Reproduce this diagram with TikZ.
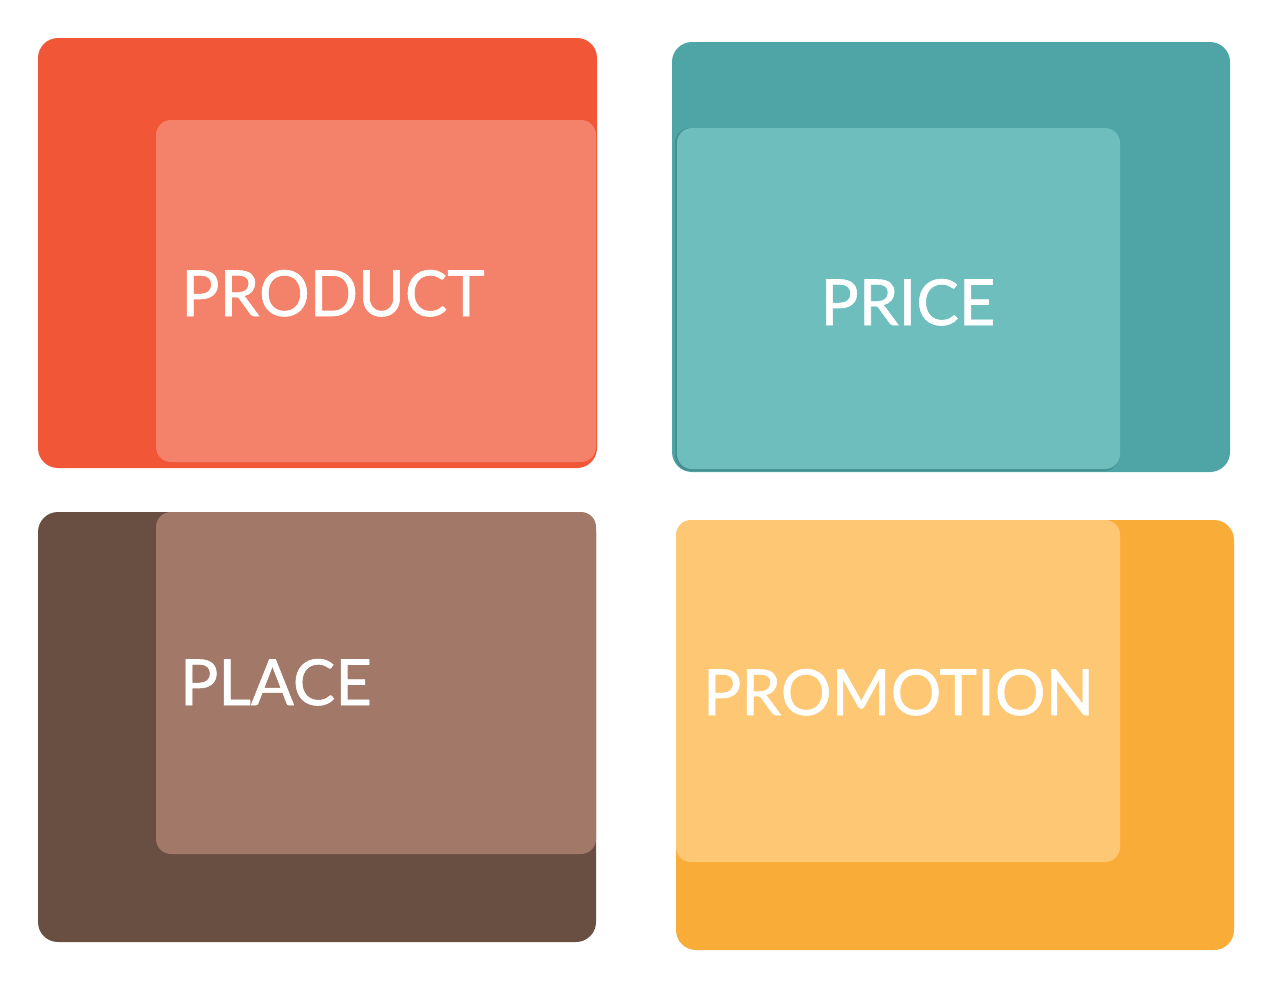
\documentclass[tikz,border=0pt]{standalone}
\usepackage{fontspec}
\newfontfamily\lato[FakeBold=0.9]{Lato}
\definecolor{prodOut}{HTML}{F15737}
\definecolor{prodIn}{HTML}{F4826A}
\definecolor{priceOut}{HTML}{4FA4A6}
\definecolor{priceIn}{HTML}{6FBEBE}
\definecolor{placeOut}{HTML}{694E42}
\definecolor{placeIn}{HTML}{A27968}
\definecolor{promoOut}{HTML}{F9AD38}
\definecolor{promoIn}{HTML}{FDC773}
\tikzset{
  outerbox/.style={rounded corners=20pt},
  innerbox/.style={rounded corners=15pt},
  label4p/.style={text=white, inner sep=0pt, anchor=base, font=\lato\fontsize{63.5}{70}\selectfont}
}
\begin{document}
\begin{tikzpicture}[x=1pt,y=-1pt]
\useasboundingbox[fill=white] (0,0) rectangle (1273,988);
% PRODUCT
\fill[prodOut,outerbox] (38,38) rectangle (597,468);
\fill[prodIn,innerbox] (156,120) rectangle (596,462);
\node[label4p] (product) at (333,316) {PRODUCT};
% PRICE
\fill[priceOut,outerbox] (672,42) rectangle (1230,472);
\fill[priceOut!88!black,innerbox] (675,128) rectangle (1119,471);
\fill[priceIn,innerbox] (677,128) rectangle (1120,469);
\node[label4p] (price) at (908,325) {PRICE};
% PLACE
\fill[placeOut,outerbox] (38,512) rectangle (596,942);
\fill[placeIn,innerbox] (156,512) rectangle (596,854);
\node[label4p] (place) at (276,705) {PLACE};
% PROMOTION
\fill[promoOut,outerbox] (676,520) rectangle (1234,950);
\fill[promoIn,innerbox] (676,520) rectangle (1120,862);
\node[label4p] (promotion) at (898.5,715) {PROMOTION};
\end{tikzpicture}
\end{document}
